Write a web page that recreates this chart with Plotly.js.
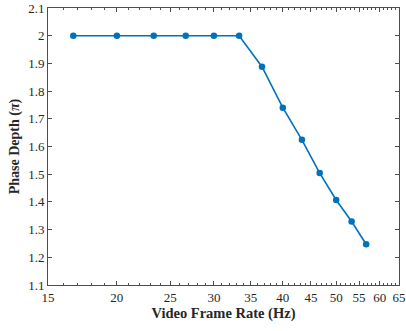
<!DOCTYPE html>
<html><head><meta charset="utf-8">
<script src="https://cdn.plot.ly/plotly-3.0.1.min.js"></script>
<style>html,body{margin:0;padding:0;background:#fff}#c{width:406px;height:331px}</style>
</head><body><div id="c"></div>
<script>
const frameRate = [16.67, 20, 23.33, 26.67, 30, 33.33, 36.67, 40, 43.33, 46.67, 50, 53.33, 56.67];
const phaseDepth = [2.0, 2.0, 2.0, 2.0, 2.0, 2.0, 1.888, 1.740, 1.624, 1.504, 1.407, 1.329, 1.247];
const xTicks = [15, 20, 25, 30, 35, 40, 45, 50, 55, 60, 65];
const xMinor = [];
for (let v = 16; v <= 64; v++) if (v % 5 !== 0) xMinor.push(v);
const yTicks = [1.1, 1.2, 1.3, 1.4, 1.5, 1.6, 1.7, 1.8, 1.9, 2, 2.1];
const yTickText = ['1.1','1.2','1.3','1.4','1.5','1.6','1.7','1.8','1.9','2','2.1'];

const axisColor = '#4d4d4d';
const font = {family: '"Liberation Serif", "Times New Roman", serif', size: 13, color: '#262626'};

Plotly.newPlot('c', [{
  x: frameRate, y: phaseDepth, type: 'scatter', mode: 'lines+markers',
  line: {color: '#0072BD', width: 1.6},
  marker: {color: '#0072BD', size: 6.5}
}], {
  width: 406, height: 331,
  margin: {l: 48, r: 7, t: 8, b: 46},
  paper_bgcolor: '#fff', plot_bgcolor: '#fff',
  font: font,
  showlegend: false,
  xaxis: {
    type: 'log', range: [Math.log10(15), Math.log10(65)],
    tickmode: 'array', tickvals: xTicks, ticktext: xTicks.map(String),
    ticks: 'inside', ticklen: 4, tickcolor: axisColor, tickwidth: 1,
    minor: {tickmode: 'array', tickvals: xMinor, ticks: 'inside', ticklen: 2, tickcolor: axisColor, showgrid: false},
    showline: true, linecolor: axisColor, linewidth: 1, mirror: 'allticks',
    showgrid: false, zeroline: false,
    tickfont: font,
    title: {text: 'Video Frame Rate (Hz)', font: {family: font.family, size: 14.5, color: '#262626', weight: 'bold'}, standoff: 4}
  },
  yaxis: {
    range: [1.1, 2.1],
    tickmode: 'array', tickvals: yTicks, ticktext: yTickText,
    ticks: 'inside', ticklen: 4, tickcolor: axisColor, tickwidth: 1,
    showline: true, linecolor: axisColor, linewidth: 1, mirror: 'allticks',
    showgrid: false, zeroline: false,
    tickfont: font,
    title: {text: 'Phase Depth (<i>π</i>)', font: {family: font.family, size: 14, color: '#262626', weight: 'bold'}, standoff: 5}
  }
}, {staticPlot: true, displayModeBar: false});
</script>
</body></html>
